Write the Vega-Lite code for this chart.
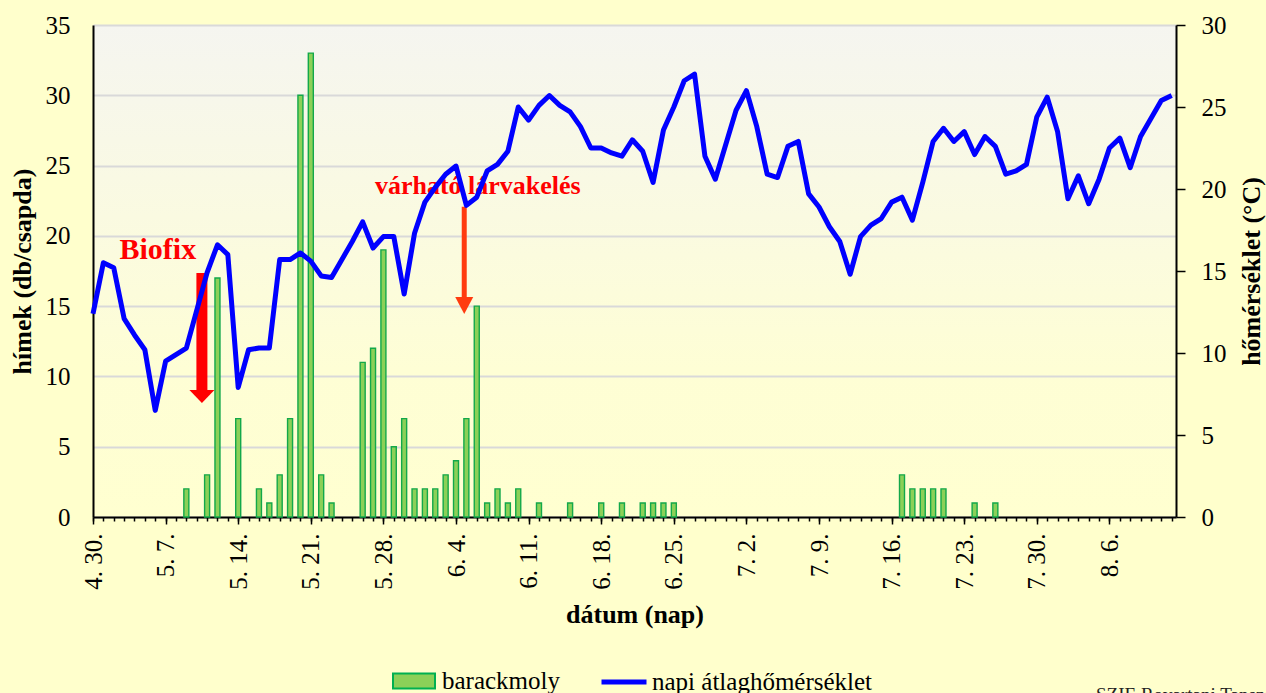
{
  "$schema": "https://vega.github.io/schema/vega-lite/v6.json",
  "width": 1083,
  "height": 492,
  "autosize": {"type": "none"},
  "padding": {"left": 93, "top": 25, "right": 90, "bottom": 176},
  "background": "#FFFFCC",
  "config": {
    "view": {
      "stroke": null,
      "fill": {
        "gradient": "linear", "x1": 0, "y1": 0, "x2": 0, "y2": 1,
        "stops": [
          {"offset": 0, "color": "#F5F5F0"},
          {"offset": 0.7, "color": "#FEFED5"},
          {"offset": 1, "color": "#FFFFD0"}
        ]
      }
    },
    "font": "Liberation Serif",
    "axis": {
      "labelFont": "Liberation Serif", "labelFontSize": 25, "labelColor": "#000000",
      "titleFont": "Liberation Serif", "titleFontSize": 26, "titleFontWeight": "bold", "titleColor": "#000000",
      "domainColor": "#000000", "domainWidth": 2, "tickColor": "#000000", "tickWidth": 1.5,
      "labelOverlap": false, "labelFlush": false
    },
    "legend": {
      "labelFont": "Liberation Serif", "labelFontSize": 25, "labelColor": "#000000", "labelLimit": 400,
      "title": null, "padding": 0, "labelOffset": 6, "direction": "horizontal"
    }
  },
  "datasets": {
    "main": [
      {"datum": "2010-04-30", "homerseklet": 12.4},
      {"datum": "2010-05-01", "homerseklet": 15.5},
      {"datum": "2010-05-02", "homerseklet": 15.2},
      {"datum": "2010-05-03", "homerseklet": 12.1},
      {"datum": "2010-05-04", "homerseklet": 11.1},
      {"datum": "2010-05-05", "homerseklet": 10.2},
      {"datum": "2010-05-06", "homerseklet": 6.5},
      {"datum": "2010-05-07", "homerseklet": 9.5},
      {"datum": "2010-05-08", "homerseklet": 9.9},
      {"datum": "2010-05-09", "homerseklet": 10.3, "barackmoly": 2},
      {"datum": "2010-05-10", "homerseklet": 12.6},
      {"datum": "2010-05-11", "homerseklet": 14.9, "barackmoly": 3},
      {"datum": "2010-05-12", "homerseklet": 16.6, "barackmoly": 17},
      {"datum": "2010-05-13", "homerseklet": 16.0},
      {"datum": "2010-05-14", "homerseklet": 7.9, "barackmoly": 7},
      {"datum": "2010-05-15", "homerseklet": 10.2},
      {"datum": "2010-05-16", "homerseklet": 10.3, "barackmoly": 2},
      {"datum": "2010-05-17", "homerseklet": 10.3, "barackmoly": 1},
      {"datum": "2010-05-18", "homerseklet": 15.7, "barackmoly": 3},
      {"datum": "2010-05-19", "homerseklet": 15.7, "barackmoly": 7},
      {"datum": "2010-05-20", "homerseklet": 16.1, "barackmoly": 30},
      {"datum": "2010-05-21", "homerseklet": 15.6, "barackmoly": 33},
      {"datum": "2010-05-22", "homerseklet": 14.7, "barackmoly": 3},
      {"datum": "2010-05-23", "homerseklet": 14.6, "barackmoly": 1},
      {"datum": "2010-05-24", "homerseklet": 15.7},
      {"datum": "2010-05-25", "homerseklet": 16.8},
      {"datum": "2010-05-26", "homerseklet": 18.0, "barackmoly": 11},
      {"datum": "2010-05-27", "homerseklet": 16.4, "barackmoly": 12},
      {"datum": "2010-05-28", "homerseklet": 17.1, "barackmoly": 19},
      {"datum": "2010-05-29", "homerseklet": 17.1, "barackmoly": 5},
      {"datum": "2010-05-30", "homerseklet": 13.6, "barackmoly": 7},
      {"datum": "2010-05-31", "homerseklet": 17.3, "barackmoly": 2},
      {"datum": "2010-06-01", "homerseklet": 19.2, "barackmoly": 2},
      {"datum": "2010-06-02", "homerseklet": 20.1, "barackmoly": 2},
      {"datum": "2010-06-03", "homerseklet": 20.9, "barackmoly": 3},
      {"datum": "2010-06-04", "homerseklet": 21.4, "barackmoly": 4},
      {"datum": "2010-06-05", "homerseklet": 19.0, "barackmoly": 7},
      {"datum": "2010-06-06", "homerseklet": 19.5, "barackmoly": 15},
      {"datum": "2010-06-07", "homerseklet": 21.1, "barackmoly": 1},
      {"datum": "2010-06-08", "homerseklet": 21.5, "barackmoly": 2},
      {"datum": "2010-06-09", "homerseklet": 22.3, "barackmoly": 1},
      {"datum": "2010-06-10", "homerseklet": 25.0, "barackmoly": 2},
      {"datum": "2010-06-11", "homerseklet": 24.2},
      {"datum": "2010-06-12", "homerseklet": 25.1, "barackmoly": 1},
      {"datum": "2010-06-13", "homerseklet": 25.7},
      {"datum": "2010-06-14", "homerseklet": 25.1},
      {"datum": "2010-06-15", "homerseklet": 24.7, "barackmoly": 1},
      {"datum": "2010-06-16", "homerseklet": 23.8},
      {"datum": "2010-06-17", "homerseklet": 22.5},
      {"datum": "2010-06-18", "homerseklet": 22.5, "barackmoly": 1},
      {"datum": "2010-06-19", "homerseklet": 22.2},
      {"datum": "2010-06-20", "homerseklet": 22.0, "barackmoly": 1},
      {"datum": "2010-06-21", "homerseklet": 23.0},
      {"datum": "2010-06-22", "homerseklet": 22.3, "barackmoly": 1},
      {"datum": "2010-06-23", "homerseklet": 20.4, "barackmoly": 1},
      {"datum": "2010-06-24", "homerseklet": 23.6, "barackmoly": 1},
      {"datum": "2010-06-25", "homerseklet": 25.0, "barackmoly": 1},
      {"datum": "2010-06-26", "homerseklet": 26.6},
      {"datum": "2010-06-27", "homerseklet": 27.0},
      {"datum": "2010-06-28", "homerseklet": 22.0},
      {"datum": "2010-06-29", "homerseklet": 20.6},
      {"datum": "2010-06-30", "homerseklet": 22.7},
      {"datum": "2010-07-01", "homerseklet": 24.8},
      {"datum": "2010-07-02", "homerseklet": 26.0},
      {"datum": "2010-07-03", "homerseklet": 23.8},
      {"datum": "2010-07-04", "homerseklet": 20.9},
      {"datum": "2010-07-05", "homerseklet": 20.7},
      {"datum": "2010-07-06", "homerseklet": 22.6},
      {"datum": "2010-07-07", "homerseklet": 22.9},
      {"datum": "2010-07-08", "homerseklet": 19.7},
      {"datum": "2010-07-09", "homerseklet": 18.9},
      {"datum": "2010-07-10", "homerseklet": 17.7},
      {"datum": "2010-07-11", "homerseklet": 16.8},
      {"datum": "2010-07-12", "homerseklet": 14.8},
      {"datum": "2010-07-13", "homerseklet": 17.1},
      {"datum": "2010-07-14", "homerseklet": 17.8},
      {"datum": "2010-07-15", "homerseklet": 18.2},
      {"datum": "2010-07-16", "homerseklet": 19.2},
      {"datum": "2010-07-17", "homerseklet": 19.5, "barackmoly": 3},
      {"datum": "2010-07-18", "homerseklet": 18.1, "barackmoly": 2},
      {"datum": "2010-07-19", "homerseklet": 20.4, "barackmoly": 2},
      {"datum": "2010-07-20", "homerseklet": 22.9, "barackmoly": 2},
      {"datum": "2010-07-21", "homerseklet": 23.7, "barackmoly": 2},
      {"datum": "2010-07-22", "homerseklet": 22.9},
      {"datum": "2010-07-23", "homerseklet": 23.5},
      {"datum": "2010-07-24", "homerseklet": 22.1, "barackmoly": 1},
      {"datum": "2010-07-25", "homerseklet": 23.2},
      {"datum": "2010-07-26", "homerseklet": 22.6, "barackmoly": 1},
      {"datum": "2010-07-27", "homerseklet": 20.9},
      {"datum": "2010-07-28", "homerseklet": 21.1},
      {"datum": "2010-07-29", "homerseklet": 21.5},
      {"datum": "2010-07-30", "homerseklet": 24.4},
      {"datum": "2010-07-31", "homerseklet": 25.6},
      {"datum": "2010-08-01", "homerseklet": 23.5},
      {"datum": "2010-08-02", "homerseklet": 19.4},
      {"datum": "2010-08-03", "homerseklet": 20.8},
      {"datum": "2010-08-04", "homerseklet": 19.1},
      {"datum": "2010-08-05", "homerseklet": 20.6},
      {"datum": "2010-08-06", "homerseklet": 22.5},
      {"datum": "2010-08-07", "homerseklet": 23.1},
      {"datum": "2010-08-08", "homerseklet": 21.3},
      {"datum": "2010-08-09", "homerseklet": 23.2},
      {"datum": "2010-08-10", "homerseklet": 24.3},
      {"datum": "2010-08-11", "homerseklet": 25.4},
      {"datum": "2010-08-12", "homerseklet": 25.7}
    ]
  },
  "layer": [
    {
      "layer": [
        {
          "data": {"name": "main"},
          "mark": {"type": "bar", "size": 5, "stroke": "#12A84A", "strokeWidth": 1.4},
          "encoding": {
            "x": {
              "field": "datum", "type": "temporal",
              "scale": {"type": "utc", "padding": 0, "domain": [{"utc": true, "year": 2010, "month": 4, "date": 30}, {"utc": true, "year": 2010, "month": 8, "date": 12, "hours": 10}]},
              "axis": {
                "orient": "bottom",
                "values": [
                  {"utc": true, "year": 2010, "month": 4, "date": 30},
                  {"utc": true, "year": 2010, "month": 5, "date": 7},
                  {"utc": true, "year": 2010, "month": 5, "date": 14},
                  {"utc": true, "year": 2010, "month": 5, "date": 21},
                  {"utc": true, "year": 2010, "month": 5, "date": 28},
                  {"utc": true, "year": 2010, "month": 6, "date": 4},
                  {"utc": true, "year": 2010, "month": 6, "date": 11},
                  {"utc": true, "year": 2010, "month": 6, "date": 18},
                  {"utc": true, "year": 2010, "month": 6, "date": 25},
                  {"utc": true, "year": 2010, "month": 7, "date": 2},
                  {"utc": true, "year": 2010, "month": 7, "date": 9},
                  {"utc": true, "year": 2010, "month": 7, "date": 16},
                  {"utc": true, "year": 2010, "month": 7, "date": 23},
                  {"utc": true, "year": 2010, "month": 7, "date": 30},
                  {"utc": true, "year": 2010, "month": 8, "date": 6}
                ],
                "format": "%-m. %-d.",
                "labelAngle": 270,
                "labelPadding": 9,
                "tickSize": 7,
                "grid": false,
                "title": "dátum (nap)",
                "titlePadding": 12
              }
            },
            "y": {
              "field": "barackmoly", "type": "quantitative",
              "scale": {"domain": [0, 35]},
              "axis": {
                "values": [0, 5, 10, 15, 20, 25, 30, 35],
                "ticks": false, "tickSize": 0, "labelPadding": 23,
                "grid": true, "gridColor": "#D9D9D9", "gridWidth": 2,
                "title": "hímek (db/csapda)", "titlePadding": 10
              }
            },
            "fill": {
              "datum": "barackmoly",
              "scale": {"domain": ["barackmoly"], "range": ["#8CD058"]},
              "legend": {
                "orient": "none", "legendX": 299, "legendY": 634,
                "symbolSize": 1764, "symbolType": "M-1,-0.36H1V0.36H-1Z",
                "symbolStrokeColor": "#00B050", "symbolStrokeWidth": 2
              }
            }
          }
        },
        {
          "data": {"values": [{"datum": "2010-05-10T12:00:00Z", "y": 17.35, "y2": 8.9}]},
          "mark": {"type": "rule", "color": "#FF0000", "strokeWidth": 11},
          "encoding": {
            "x": {"field": "datum", "type": "temporal"},
            "y": {"field": "y", "type": "quantitative", "scale": {"domain": [0, 35]}},
            "y2": {"field": "y2"}
          }
        },
        {
          "data": {"values": [{"datum": "2010-05-10T12:00:00Z", "y": 8.57}]},
          "mark": {"type": "point", "shape": "M-1,-0.52L1,-0.52L0,0.52Z", "size": 625, "filled": true, "color": "#FF0000", "opacity": 1},
          "encoding": {
            "x": {"field": "datum", "type": "temporal"},
            "y": {"field": "y", "type": "quantitative", "scale": {"domain": [0, 35]}}
          }
        },
        {
          "data": {"values": [{"datum": "2010-06-04T19:00:00Z", "y": 22.07, "y2": 15.5}]},
          "mark": {"type": "rule", "color": "#FF3B0F", "strokeWidth": 5},
          "encoding": {
            "x": {"field": "datum", "type": "temporal"},
            "y": {"field": "y", "type": "quantitative", "scale": {"domain": [0, 35]}},
            "y2": {"field": "y2"}
          }
        },
        {
          "data": {"values": [{"datum": "2010-06-04T19:00:00Z", "y": 15.04}]},
          "mark": {"type": "point", "shape": "M-1,-0.94L1,-0.94L0,0.94Z", "size": 324, "filled": true, "color": "#FF3B0F", "opacity": 1},
          "encoding": {
            "x": {"field": "datum", "type": "temporal"},
            "y": {"field": "y", "type": "quantitative", "scale": {"domain": [0, 35]}}
          }
        },
        {
          "data": {"values": [{"datum": "2010-05-06T06:00:00Z", "y": 18.33, "felirat": "Biofix"}]},
          "mark": {"type": "text", "font": "Liberation Serif", "fontSize": 30, "fontWeight": "bold", "color": "#FF0000", "align": "center", "baseline": "alphabetic"},
          "encoding": {
            "x": {"field": "datum", "type": "temporal"},
            "y": {"field": "y", "type": "quantitative", "scale": {"domain": [0, 35]}},
            "text": {"field": "felirat"}
          }
        },
        {
          "data": {"values": [{"datum": "2010-06-06T02:30:00Z", "y": 22.95, "felirat": "várható lárvakelés"}]},
          "mark": {"type": "text", "font": "Liberation Serif", "fontSize": 26, "fontWeight": "bold", "color": "#FF0000", "align": "center", "baseline": "alphabetic"},
          "encoding": {
            "x": {"field": "datum", "type": "temporal"},
            "y": {"field": "y", "type": "quantitative", "scale": {"domain": [0, 35]}},
            "text": {"field": "felirat"}
          }
        },
        {
          "data": {"values": [{"datum": "2010-08-04T17:00:00Z", "y": -13.1, "felirat": "SZIE Rovartani Tanszék"}]},
          "mark": {"type": "text", "font": "Liberation Serif", "fontSize": 19, "color": "#222222", "align": "left", "baseline": "alphabetic"},
          "encoding": {
            "x": {"field": "datum", "type": "temporal"},
            "y": {"field": "y", "type": "quantitative", "scale": {"domain": [0, 35]}},
            "text": {"field": "felirat"}
          }
        }
      ]
    },
    {
      "data": {"name": "main"},
      "mark": {"type": "line", "strokeWidth": 5, "strokeJoin": "round"},
      "encoding": {
        "x": {
          "field": "datum", "type": "temporal",
          "axis": {
            "orient": "bottom",
            "tickCount": {"interval": "day", "step": 1},
            "labels": false, "domain": false, "grid": false, "tickSize": 4, "title": null
          }
        },
        "y": {
          "field": "homerseklet", "type": "quantitative",
          "scale": {"domain": [0, 30]},
          "axis": {
            "orient": "right",
            "values": [0, 5, 10, 15, 20, 25, 30],
            "grid": false, "tickSize": 9, "labelPadding": 16,
            "title": "hőmérséklet (°C)", "titleAngle": 270, "titleBaseline": "top", "titlePadding": 12
          }
        },
        "stroke": {
          "datum": "napi átlaghőmérséklet",
          "scale": {"domain": ["napi átlaghőmérséklet"], "range": ["#0000FF"]},
          "legend": {
            "orient": "none", "legendX": 506, "legendY": 632,
            "symbolType": "stroke", "symbolSize": 2025, "symbolStrokeWidth": 5, "labelOffset": 3
          }
        }
      }
    }
  ],
  "resolve": {"scale": {"y": "independent"}, "axis": {"x": "independent"}}
}
